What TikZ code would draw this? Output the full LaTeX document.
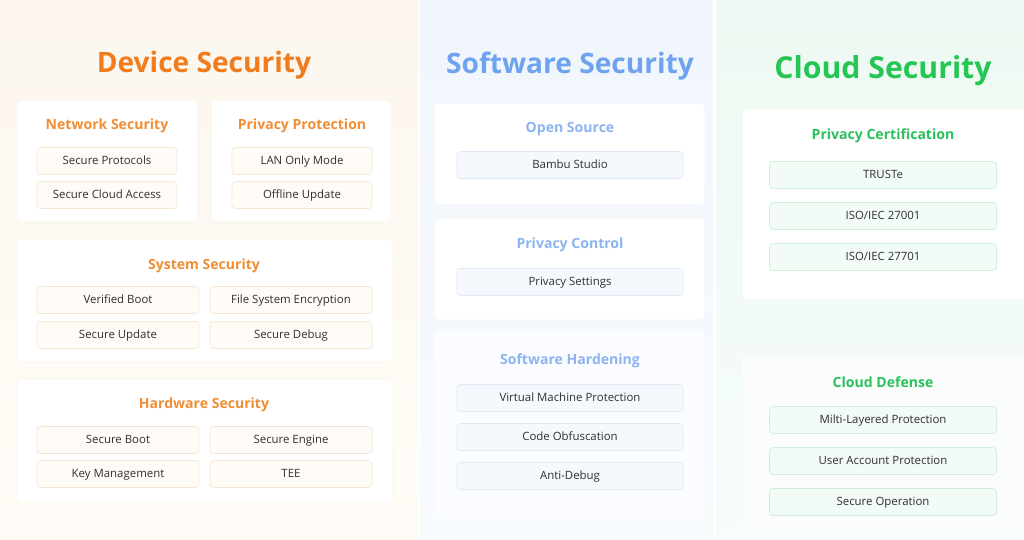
\documentclass[tikz,border=0pt]{standalone}
\usepackage{fontspec}
\setmainfont{Open Sans}
\definecolor{DevOrange}{RGB}{240,124,30}
\definecolor{DevHead}{RGB}{240,142,52}
\definecolor{DevLine}{RGB}{246,230,210}
\definecolor{DevFill}{RGB}{255,252,247}
\definecolor{SoftBlue}{RGB}{112,163,238}
\definecolor{SoftHead}{RGB}{140,181,240}
\definecolor{SoftLine}{RGB}{222,233,246}
\definecolor{SoftFill}{RGB}{245,249,254}
\definecolor{CloudGreen}{RGB}{38,198,84}
\definecolor{CloudHead}{RGB}{42,192,92}
\definecolor{CloudLine}{RGB}{208,238,218}
\definecolor{CloudFill}{RGB}{242,251,246}
\definecolor{ItemText}{RGB}{48,48,48}
\usetikzlibrary{positioning}

\begin{document}
\begin{tikzpicture}[x=0.02cm,y=-0.02cm,
    title/.style={font=\fontsize{16}{18}\selectfont\bfseries},
    head/.style={font=\fontsize{8}{10}\selectfont\bfseries},
    card/.style={fill=white,draw=#1,rounded corners=3pt,line width=0.3pt},
    item/.style={rounded corners=2pt,line width=0.4pt,text=ItemText,
                 font=\fontsize{6.5}{8}\selectfont,minimum height=0.54cm,inner sep=0pt,
                 text height=5pt,text depth=1pt},
    ditem/.style={item,draw=DevLine,fill=DevFill,minimum width=2.8cm},
    ditemw/.style={item,draw=DevLine,fill=DevFill,minimum width=3.24cm},
    sitem/.style={item,draw=SoftLine,fill=SoftFill,minimum width=4.52cm},
    citem/.style={item,draw=CloudLine,fill=CloudFill,minimum width=4.54cm}]
    \useasboundingbox (0,0) rectangle (1024,539);
    % column backgrounds
    \shade[top color=DevFill!40!DevLine!55,bottom color=DevFill] (0,0) rectangle (418,539);
    \shade[top color=SoftFill!80!SoftLine,bottom color=SoftFill!70!white] (420,0) rectangle (713,539);
    \shade[top color=CloudFill!85!CloudLine,bottom color=CloudFill!60!white] (716,0) rectangle (1024,539);

    \node[title,text=DevOrange]   (dev)   at (204,65) {Device Security};
    \node[title,text=SoftBlue]    (soft)  at (570,66) {Software Security};
    \node[title,text=CloudGreen,font=\fontsize{17.2}{19}\selectfont\bfseries] (cloud) at (883,71) {Cloud Security};

    % device security
    \draw[card=DevLine!50] (16,100) rectangle (198,222);
    \draw[card=DevLine!50] (211,100) rectangle (392,222);
    \draw[card=DevLine!50] (16,239) rectangle (393,362);
    \draw[card=DevLine!50] (16,379) rectangle (393,502);

    \node[head,text=DevHead] (net) at (107,126) {Network Security};
    \node[ditem] (net1) at (107,161) {Secure Protocols};
    \node[ditem] (net2) at (107,195) {Secure Cloud Access};

    \node[head,text=DevHead] (priv) at (302,126) {Privacy Protection};
    \node[ditem] (priv1) at (302,161) {LAN Only Mode};
    \node[ditem] (priv2) at (302,195) {Offline Update};

    \node[head,text=DevHead] (sys) at (204,266) {System Security};
    \node[ditemw] (sys1) at (118,300) {Verified Boot};
    \node[ditemw] (sys2) at (291,300) {File System Encryption};
    \node[ditemw] (sys3) at (118,335) {Secure Update};
    \node[ditemw] (sys4) at (291,335) {Secure Debug};

    \node[head,text=DevHead] (hw) at (204,405) {Hardware Security};
    \node[ditemw] (hw1) at (118,440) {Secure Boot};
    \node[ditemw] (hw2) at (291,440) {Secure Engine};
    \node[ditemw] (hw3) at (118,474) {Key Management};
    \node[ditemw] (hw4) at (291,474) {TEE};

    % software security
    \draw[card=SoftLine!40] (434,103) rectangle (705,205);
    \draw[card=SoftLine!40] (434,218) rectangle (705,320);
    \draw[card=SoftLine!20,fill=white!55!SoftFill] (434,330) rectangle (705,520);

    \node[head,text=SoftHead] (open) at (570,129) {Open Source};
    \node[sitem] (open1) at (570,165) {Bambu Studio};

    \node[head,text=SoftHead] (pctl) at (570,245) {Privacy Control};
    \node[sitem] (pctl1) at (570,282) {Privacy Settings};

    \node[head,text=SoftHead] (hard) at (570,361) {Software Hardening};
    \node[sitem] (hard1) at (570,398) {Virtual Machine Protection};
    \node[sitem] (hard2) at (570,437) {Code Obfuscation};
    \node[sitem] (hard3) at (570,476) {Anti-Debug};

    % cloud security
    \draw[card=CloudLine!40] (742,109) rectangle (1030,300);
    \draw[card=CloudLine!20,fill=white!60!CloudFill] (742,355) rectangle (1030,530);

    \node[head,text=CloudHead] (cert) at (883,136) {Privacy Certification};
    \node[citem] (cert1) at (883,175) {TRUSTe};
    \node[citem] (cert2) at (883,216) {ISO/IEC 27001};
    \node[citem] (cert3) at (883,257) {ISO/IEC 27701};

    \node[head,text=CloudHead] (def) at (883,382) {Cloud Defense};
    \node[citem] (def1) at (883,420) {Milti-Layered Protection};
    \node[citem] (def2) at (883,461) {User Account Protection};
    \node[citem] (def3) at (883,502) {Secure Operation};
  \end{tikzpicture}
\end{document}
